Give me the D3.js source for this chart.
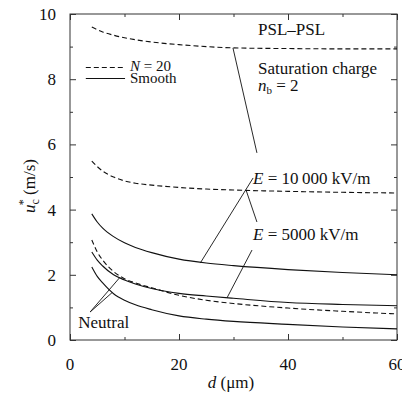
<!DOCTYPE html>
<html>
<head>
<meta charset="utf-8">
<script src="https://cdn.jsdelivr.net/npm/d3@7"></script>
</head>
<body style="margin:0">
<script>
// particle diameter d (um)
var dValues = [4, 5, 6, 8, 10, 12, 15, 20, 25, 30, 40, 50, 60];

// u*_c (m/s) for each case
var e10000N20 = [9.6, 9.52, 9.45, 9.35, 9.27, 9.21, 9.14, 9.06, 9.0, 8.96, 8.94, 8.93, 8.93];
var e5000N20 = [5.49, 5.32, 5.18, 5.0, 4.88, 4.81, 4.75, 4.68, 4.63, 4.6, 4.56, 4.53, 4.51];
var neutralN20 = [3.07, 2.7, 2.45, 2.1, 1.88, 1.75, 1.6, 1.37, 1.22, 1.12, 0.98, 0.88, 0.8];
var e10000Smooth = [3.87, 3.62, 3.43, 3.17, 2.98, 2.84, 2.68, 2.48, 2.36, 2.28, 2.16, 2.07, 2.0];
var e5000Smooth = [2.7, 2.45, 2.27, 2.0, 1.84, 1.72, 1.58, 1.43, 1.35, 1.28, 1.15, 1.09, 1.05];
var neutralSmooth = [2.24, 1.95, 1.75, 1.42, 1.22, 1.08, 0.93, 0.74, 0.64, 0.57, 0.48, 0.4, 0.34];

var xTicks = [0, 20, 40, 60];
var yTicks = [0, 2, 4, 6, 8, 10];

// leader lines [d1, u1, d2, u2]
var leaders = [
    [29.9, 8.96, 34.3, 5.74],
    [33.6, 4.97, 23.9, 2.36],
    [32.3, 4.6, 34.3, 3.62],
    [33.4, 2.76, 28.8, 1.29],
    [3.7, 0.86, 9.2, 1.93],
    [3.7, 0.86, 7.7, 1.45]
];

var series = [
    { v: e10000N20, dash: true },
    { v: e5000N20, dash: true },
    { v: neutralN20, dash: true },
    { v: e10000Smooth, dash: false },
    { v: e5000Smooth, dash: false },
    { v: neutralSmooth, dash: false }
];

var W = 402, H = 396;
var mLeft = 70, mRight = 397, mTop = 14, mBottom = 340;
var serifFont = "Liberation Serif";

var svg = d3.select("body").append("svg").attr("width", W).attr("height", H);

var x = d3.scaleLinear().domain([0, 60]).range([mLeft, mRight]);
var y = d3.scaleLinear().domain([0, 10]).range([mBottom, mTop]);

// frame
svg.append("rect")
    .attr("x", mLeft).attr("y", mTop)
    .attr("width", mRight - mLeft).attr("height", mBottom - mTop)
    .attr("fill", "none").attr("stroke", "#333").attr("stroke-width", 1);

// inward ticks on all sides
function ticks(axis, pos, vals, len) {
    var g = svg.append("g").attr("transform", "translate(" + pos[0] + "," + pos[1] + ")").call(axis.tickValues(vals).tickSize(len).tickFormat(""));
    g.select(".domain").remove();
    g.selectAll("line").attr("stroke", "#333");
}
var xMinor = [10, 30, 50];
var yMinor = [1, 3, 5, 7, 9];
ticks(d3.axisTop(x), [0, mBottom], xTicks, 6);
ticks(d3.axisTop(x), [0, mBottom], xMinor, 3);
ticks(d3.axisBottom(x), [0, mTop], xTicks, 6);
ticks(d3.axisBottom(x), [0, mTop], xMinor, 3);
ticks(d3.axisRight(y), [mLeft, 0], yTicks, 6);
ticks(d3.axisRight(y), [mLeft, 0], yMinor, 3);
ticks(d3.axisLeft(y), [mRight, 0], yTicks, 6);
ticks(d3.axisLeft(y), [mRight, 0], yMinor, 3);

// all text goes into this group
var tg = svg.append("g");

// tick labels
tg.selectAll(".xl").data(xTicks).enter().append("text")
    .attr("x", function (d) { return x(d); })
    .attr("y", 370)
    .attr("text-anchor", "middle")
    .attr("font-size", 17)
    .text(function (d) { return d; });

tg.selectAll(".yl").data(yTicks).enter().append("text")
    .attr("x", 56)
    .attr("y", function (d) { return y(d) + 6; })
    .attr("text-anchor", "end")
    .attr("font-size", 17)
    .text(function (d) { return d; });

// curves
var line = d3.line()
    .x(function (d, i) { return x(dValues[i]); })
    .y(function (d) { return y(d); })
    .curve(d3.curveMonotoneX);

svg.selectAll(".curve").data(series).enter().append("path")
    .attr("d", function (s) { return line(s.v); })
    .attr("fill", "none")
    .attr("stroke", "#111")
    .attr("stroke-width", 1.1)
    .attr("stroke-dasharray", function (s) { return s.dash ? "5,3" : null; });

// leader lines
svg.selectAll(".leader").data(leaders).enter().append("line")
    .attr("x1", function (d) { return x(d[0]); })
    .attr("y1", function (d) { return y(d[1]); })
    .attr("x2", function (d) { return x(d[2]); })
    .attr("y2", function (d) { return y(d[3]); })
    .attr("stroke", "#111").attr("stroke-width", 0.9);

// legend
svg.append("line").attr("x1", x(2.9)).attr("x2", x(10.1)).attr("y1", y(8.36)).attr("y2", y(8.36))
    .attr("stroke", "#111").attr("stroke-width", 1.1).attr("stroke-dasharray", "5,3");
svg.append("line").attr("x1", x(2.9)).attr("x2", x(10.1)).attr("y1", y(8.02)).attr("y2", y(8.02))
    .attr("stroke", "#111").attr("stroke-width", 1.1);

function label(d, u, parts, size) {
    var t = tg.append("text")
        .attr("x", x(d)).attr("y", y(u)).attr("font-size", size || 17);
    parts.forEach(function (p) {
        var s = t.append("tspan").text(p[0]);
        if (p[1]) s.attr("font-style", "italic");
        if (p[2]) s.attr("font-size", p[2]);
        if (p[3]) s.attr("dy", p[3]);
    });
    return t;
}

label(11, 8.24, [["N", true], [" = 20"]], 15);
label(11, 7.88, [["Smooth"]], 15);
label(34.5, 9.36, [["PSL\u2013PSL"]]);
label(34.5, 8.16, [["Saturation charge"]]);
label(34.5, 7.63, [["n", true], ["b", false, 11, 3], [" = 2", false, null, -3]]);
label(33.6, 4.79, [["E", true], [" = 10\u2009000 kV/m"]]);
label(33.6, 3.07, [["E", true], [" = 5000 kV/m"]]);
label(1.5, 0.37, [["Neutral"]]);

// axis titles
var xt = tg.append("text")
    .attr("x", 231).attr("y", 388).attr("text-anchor", "middle").attr("font-size", 17);
xt.append("tspan").attr("font-style", "italic").text("d");
xt.append("tspan").text(" (\u03bcm)");

var yt = tg.append("text")
    .attr("transform", "translate(35,186) rotate(-90)")
    .attr("text-anchor", "middle").attr("font-size", 17);
yt.append("tspan").attr("font-style", "italic").text("u");
yt.append("tspan").attr("font-size", 12).attr("dy", 4).text("c");
yt.append("tspan").attr("font-size", 12).attr("dx", -6).attr("dy", -12).text("*");
yt.append("tspan").attr("dy", 8).text(" (m/s)");

// serif font on every text and tspan
tg.selectAll("text, tspan")
    .style("font-family", "'" + serifFont + "'")
    .attr("fill", "#111");
</script>
</body>
</html>
